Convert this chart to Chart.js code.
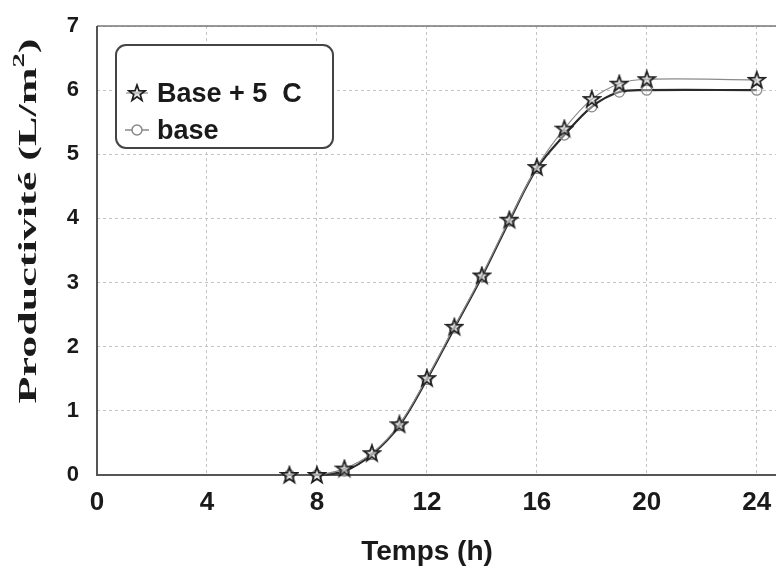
<!DOCTYPE html>
<html>
<head>
<meta charset="utf-8">
<script src="https://cdn.jsdelivr.net/npm/chart.js@4/dist/chart.umd.min.js"></script>
<style>
html,body{margin:0;padding:0;background:#fff;}
canvas{display:block;}
</style>
</head>
<body>
<canvas id="c" width="776" height="570"></canvas>
<script>
// ---- data ----
const hours = [7, 8, 9, 10, 11, 12, 13, 14, 15, 16, 17, 18, 19, 20, 24];
const basePlus5 = [0, 0, 0.10, 0.34, 0.79, 1.51, 2.31, 3.11, 3.98, 4.80, 5.40, 5.86, 6.10, 6.17, 6.16];
const baseVals = [0, 0, 0.06, 0.32, 0.77, 1.49, 2.29, 3.09, 3.96, 4.78, 5.30, 5.74, 5.97, 6.00, 6.00];
const xTicks = [0, 4, 8, 12, 16, 20, 24];
const yTicks = [0, 1, 2, 3, 4, 5, 6, 7];
const seriesNames = ['Base + 5  C', 'base'];
const xTitle = 'Temps (h)';
const yTitleParts = ['Productivité (L/m', '2', ')'];

// star marker image
function makeStar() {
  const c = document.createElement('canvas');
  c.width = 20; c.height = 20;
  const g = c.getContext('2d');
  g.translate(10, 10.5);
  g.beginPath();
  for (let i = 0; i < 10; i++) {
    const r = i % 2 === 0 ? 8.5 : 3.4;
    const a = -Math.PI / 2 + i * Math.PI / 5;
    const px = r * Math.cos(a), py = r * Math.sin(a);
    if (i === 0) g.moveTo(px, py); else g.lineTo(px, py);
  }
  g.closePath();
  g.fillStyle = 'rgba(200,200,200,0.5)';
  g.fill();
  g.strokeStyle = '#1e1e1e';
  g.lineWidth = 1.7;
  g.stroke();
  return c;
}
const starImg = makeStar();

const decor = {
  id: 'decor',
  beforeDatasetsDraw(chart) {
    const {ctx, chartArea: a} = chart;
    ctx.save();
    ctx.strokeStyle = '#777';
    ctx.lineWidth = 1.5;
    ctx.beginPath();
    ctx.moveTo(a.left, a.top); ctx.lineTo(chart.width, a.top);
    ctx.stroke();
    ctx.strokeStyle = '#555';
    ctx.lineWidth = 2;
    ctx.beginPath();
    ctx.moveTo(a.left, a.top); ctx.lineTo(a.left, a.bottom); ctx.lineTo(chart.width, a.bottom);
    ctx.stroke();
    ctx.restore();
  },
  afterDraw(chart) {
    const ctx = chart.ctx;
    ctx.save();
    // legend box
    const bx = 116, by = 45, bw = 217, bh = 103, r = 10;
    ctx.beginPath();
    ctx.roundRect(bx, by, bw, bh, r);
    ctx.fillStyle = '#fff';
    ctx.fill();
    ctx.strokeStyle = '#444';
    ctx.lineWidth = 2;
    ctx.stroke();
    // row 1 marker
    ctx.strokeStyle = '#777';
    ctx.lineWidth = 1;
    ctx.beginPath(); ctx.moveTo(126, 93); ctx.lineTo(148, 93); ctx.stroke();
    ctx.drawImage(starImg, 127, 83);
    // row 2 marker
    ctx.strokeStyle = '#888';
    ctx.lineWidth = 1.5;
    ctx.beginPath(); ctx.moveTo(125, 130); ctx.lineTo(149, 130); ctx.stroke();
    ctx.beginPath(); ctx.arc(137, 130, 5, 0, Math.PI * 2);
    ctx.fillStyle = '#fff'; ctx.fill(); ctx.stroke();
    ctx.fillStyle = '#1a1a1a';
    ctx.font = 'bold 27px "Liberation Sans", Arial, sans-serif';
    ctx.textAlign = 'left';
    ctx.textBaseline = 'alphabetic';
    ctx.fillText(seriesNames[0], 157, 102);
    ctx.fillText(seriesNames[1], 157, 139);

    // x title
    ctx.font = 'bold 28px "Liberation Sans", Arial, sans-serif';
    ctx.textAlign = 'center';
    ctx.fillText(xTitle, 427, 560);

    // y title (serif, stretched)
    ctx.translate(27, 221);
    ctx.rotate(-Math.PI / 2);
    const fMain = 'bold 26px "Liberation Serif", "Times New Roman", serif';
    const fSup = 'bold 17px "Liberation Serif", "Times New Roman", serif';
    ctx.font = fMain;
    const w0 = ctx.measureText(yTitleParts[0]).width;
    const w2 = ctx.measureText(yTitleParts[2]).width;
    ctx.font = fSup;
    const w1 = ctx.measureText(yTitleParts[1]).width;
    const total = w0 + w1 + w2;
    const target = 365;
    ctx.scale(target / total, 1);
    ctx.textAlign = 'left';
    let x = -total / 2;
    ctx.font = fMain;
    ctx.fillText(yTitleParts[0], x, 9);
    x += w0;
    ctx.font = fSup;
    ctx.fillText(yTitleParts[1], x, -3);
    x += w1;
    ctx.font = fMain;
    ctx.fillText(yTitleParts[2], x, 9);
    ctx.restore();
  }
};

new Chart(document.getElementById('c'), {
  type: 'line',
  data: {
    datasets: [
      {
        label: seriesNames[0],
        data: hours.map((h, i) => ({x: h, y: basePlus5[i]})),
        borderColor: '#8a8a8a',
        borderWidth: 1.2,
        tension: 0.35,
        pointStyle: starImg,
        pointRadius: 8,
        clip: false,
        order: 1
      },
      {
        label: seriesNames[1],
        data: hours.map((h, i) => ({x: h, y: baseVals[i]})),
        borderColor: '#2a2a2a',
        borderWidth: 2.2,
        tension: 0.35,
        pointStyle: 'circle',
        pointRadius: 5,
        pointBorderWidth: 1.3,
        pointBorderColor: '#8a8a8a',
        pointBackgroundColor: 'rgba(255,255,255,0.4)',
        clip: false,
        order: 2
      }
    ]
  },
  options: {
    responsive: false,
    animation: false,
    layout: {autoPadding: false, padding: {top: 26, left: 0, right: 0, bottom: 0}},
    plugins: {legend: {display: false}, tooltip: {enabled: false}},
    scales: {
      x: {
        type: 'linear',
        min: 0,
        max: 24.7,
        afterBuildTicks: s => { s.ticks = xTicks.map(v => ({value: v})); },
        afterFit: s => { s.height = 95; s.paddingLeft = 0; s.paddingRight = 0; },
        grid: {color: '#c4c4c4', lineWidth: 1, drawTicks: true, tickLength: 12, tickColor: 'rgba(0,0,0,0)'},
        border: {display: false, dash: [3, 3]},
        ticks: {
          padding: 0,
          color: '#1a1a1a',
          font: {family: '"Liberation Sans", Arial, sans-serif', size: 26, weight: 'bold'},
          maxRotation: 0
        }
      },
      y: {
        type: 'linear',
        min: 0,
        max: 7,
        afterBuildTicks: s => { s.ticks = yTicks.map(v => ({value: v})); },
        afterFit: s => { s.width = 97; s.paddingTop = 0; s.paddingBottom = 0; },
        grid: {color: '#c4c4c4', lineWidth: 1, drawTicks: false},
        border: {display: false, dash: [3, 3]},
        ticks: {
          padding: 18,
          color: '#1a1a1a',
          font: {family: '"Liberation Sans", Arial, sans-serif', size: 22, weight: 'bold'}
        }
      }
    }
  },
  plugins: [decor]
});
</script>
</body>
</html>
